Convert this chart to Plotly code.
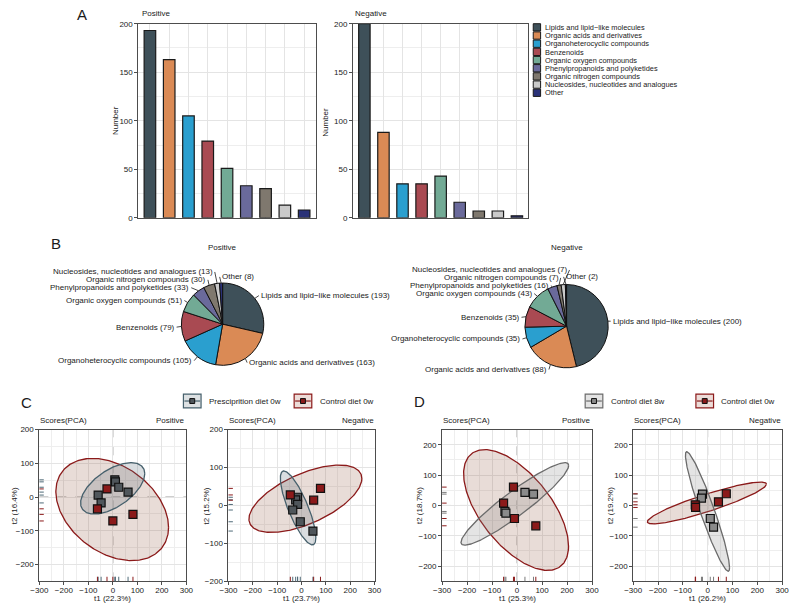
import numpy as np
import plotly.graph_objects as go

W, H = 796, 607
FONT = "Arial, 'Liberation Sans', sans-serif"
TXT = "#1a1a1a"
FRAME = "#4d4d4d"
GRID = "#e4e4e4"
GRID_MINOR = "#eeeeee"

# ---------------- data ----------------
categories = ["Lipids and lipid\u2212like molecules", "Organic acids and derivatives",
              "Organoheterocyclic compounds", "Benzenoids", "Organic oxygen compounds",
              "Phenylpropanoids and polyketides", "Organic nitrogen compounds",
              "Nucleosides, nucleotides and analogues", "Other"]
category_colors = ["#3E5059", "#DA8A55", "#2A9FCF", "#A94A52", "#72AA95",
                   "#6A6A9B", "#7F786E", "#CACACA", "#2A3278"]
positive_counts = [193, 163, 105, 79, 51, 33, 30, 13, 8]
negative_counts = [200, 88, 35, 35, 43, 16, 7, 7, 2]
count_ticks = [0, 50, 100, 150, 200]

# PCA scores (t1, t2) per panel and group
c_pos_presc_t1 = [8, 10.5, 24, 62, -60, -48]
c_pos_presc_t2 = [51, 45, 29, 14.6, 5.8, -17.5]
c_pos_ctrl_t1 = [-24, -63, 0, 82]
c_pos_ctrl_t2 = [24, -35, -71, -51.5]

c_neg_presc_t1 = [-16, -24, -16, -36, -5, 47]
c_neg_presc_t2 = [21.6, 14.7, 2.6, -12, -43, -67.5]
c_neg_ctrl_t1 = [-46, 78, 50]
c_neg_ctrl_t2 = [27.7, 45, 13.9]

d_pos_8w_t1 = [31.5, 65.7, -48.6, -44.7]
d_pos_8w_t2 = [43, 37.4, -19.8, -25.3]
d_pos_ctrl_t1 = [-14.5, -54, -10.5, 75]
d_pos_ctrl_t2 = [60.5, 7.7, -43, -67]

d_neg_8w_t1 = [-21, -25, 10.5, 23.7]
d_neg_8w_t2 = [37.4, 24, -43, -71.5]
d_neg_ctrl_t1 = [75, 43.4, -50, -48.7]
d_neg_ctrl_t2 = [38.5, 12, 2.2, -6.6]

# confidence ellipses: centre t1, centre t2, sd t1, sd t2, correlation
c_pos_presc_ell = [-0.7, 25.7, 131, 76.3, 0.57]
c_pos_ctrl_ell = [-2.7, -37, 230, 151.6, -0.35]
c_neg_presc_ell = [-14, -6.5, 73, 97.5, -0.8]
c_neg_ctrl_ell = [16, 17.7, 232, 88.8, 0.6]
d_pos_8w_ell = [-9, 5, 215.5, 136, 0.93]
d_pos_ctrl_ell = [-4, -15, 210, 199, -0.6]
d_neg_8w_ell = [-0.7, -19.8, 88.8, 197, -0.94]
d_neg_ctrl_ell = [-3, 8.3, 240, 68.8, 0.9]

t1_labels = ["t1 (22.3%)", "t1 (23.7%)", "t1 (25.3%)", "t1 (26.2%)"]
t2_labels = ["t2 (16.4%)", "t2 (15.2%)", "t2 (18.7%)", "t2 (19.2%)"]
score_ticks = [-300, -200, -100, 0, 100, 200, 300]


def fx(px):
    return px / W


def fy(py):
    return 1 - py / H


fig = go.Figure()
shapes = []
annotations = []


def text(px, py, s, size=8, xanchor="center", yanchor="middle", angle=0, color=TXT):
    annotations.append(dict(x=fx(px), y=fy(py), xref="paper", yref="paper", text=s,
                            showarrow=False, xanchor=xanchor, yanchor=yanchor,
                            textangle=angle, borderpad=0,
                            font=dict(size=size, family=FONT, color=color)))


def axname(n):
    return ("xaxis", "yaxis") if n == 1 else (f"xaxis{n}", f"yaxis{n}")


def axref(n):
    return ("x", "y") if n == 1 else (f"x{n}", f"y{n}")


layout_axes = {}
tickfont = dict(size=8, family=FONT, color=TXT)

# ---------------- Panel A: bars ----------------
bar_boxes = [((132, 313), (20, 217)), ((351, 530), (20, 217))]
for n, (counts, ((x0, x1), (y0, y1))) in enumerate(zip([positive_counts, negative_counts], bar_boxes), start=1):
    xa, ya = axname(n)
    xr, yr = axref(n)
    fig.add_trace(go.Bar(x=list(range(len(categories))), y=counts, width=0.6,
                         marker=dict(color=category_colors, line=dict(color="#1a1a1a", width=1.2)),
                         xaxis=xr, yaxis=yr, showlegend=False, hoverinfo="skip"))
    layout_axes[xa] = dict(domain=[fx(x0), fx(x1)], anchor=yr, range=[-0.6, len(categories) - 0.4],
                           tickmode="array", tickvals=list(range(len(categories))),
                           showticklabels=False, ticks="", showgrid=True, gridcolor=GRID, gridwidth=1,
                           showline=True, mirror=True, linecolor=FRAME, linewidth=1, zeroline=False)
    layout_axes[ya] = dict(domain=[fy(y1), fy(y0)], anchor=xr, range=[0, 200],
                           tickmode="array", tickvals=count_ticks, ticks="outside", ticklen=3,
                           tickcolor=FRAME, tickfont=tickfont, showgrid=True, gridcolor=GRID,
                           minor=dict(dtick=25, showgrid=True, gridcolor=GRID_MINOR, ticks=""),
                           showline=True, mirror=True, linecolor=FRAME, linewidth=1, zeroline=False)

text(74, 11, "A", size=15)
text(135, 10, "Positive", xanchor="left")
text(352, 10, "Negative", xanchor="left")
text(108, 118, "Number", angle=-90)
text(323, 120, "Number", angle=-90)

# legend of panel A
for i, (cat, col) in enumerate(zip(categories, category_colors)):
    top = 20 + i * 8.3
    shapes.append(dict(type="rect", xref="paper", yref="paper", x0=fx(535), x1=fx(542.5),
                       y0=fy(top + 7.4), y1=fy(top), fillcolor=col,
                       line=dict(color="#1a1a1a", width=1)))
    text(546, top + 3.9, cat, size=7.4, xanchor="left")

# ---------------- Panel B: pies ----------------
pie_specs = [
    (positive_counts, (218, 325, 42), "Positive",
     [(255, 296, "left"), (243, 364, "left"), (189, 362, "right"), (171, 328, "right"),
      (179, 301, "right"), (186, 288, "right"), (203, 280, "right"), (210, 272, "right"),
      (215, 277, "left")]),
    (negative_counts, (569, 327, 42.5), "Negative",
     [(614, 322, "left"), (551, 371, "right"), (524, 340, "right"), (523, 318, "right"),
      (536, 294, "right"), (553, 286, "right"), (563, 278, "right"), (572, 270, "right"),
      (566, 277, "left")]),
]
for counts, (cx, cy, r), title, label_pos in pie_specs:
    fig.add_trace(go.Pie(values=counts, labels=categories, sort=False, direction="clockwise",
                         rotation=0, textinfo="none", hoverinfo="skip", showlegend=False,
                         marker=dict(colors=category_colors, line=dict(color="#111111", width=1)),
                         domain=dict(x=[fx(cx - r), fx(cx + r)], y=[fy(cy + r), fy(cy - r)])))
    text(cx, 247, title)
    total = float(sum(counts))
    cum = 0.0
    for cat, v, (lx, ly, side) in zip(categories, counts, label_pos):
        mid = np.deg2rad((cum + v / 2.0) / total * 360.0)
        cum += v
        ax_ = cx + r * np.sin(mid)
        ay_ = cy - r * np.cos(mid)
        shapes.append(dict(type="line", xref="paper", yref="paper", x0=fx(ax_), y0=fy(ay_),
                           x1=fx(lx), y1=fy(ly), line=dict(color="#1a1a1a", width=0.8)))
        tx = lx + 1 if side == "left" else lx - 1
        text(tx, ly, f"{cat} ({v})", xanchor=side)

text(48, 243, "B", size=15)

# ---------------- Panels C / D: PCA scores ----------------
C_G1 = dict(marker="#4F565B", line="#46606C", fill="rgba(80,100,112,0.22)", rug="#4F6A78")
D_G1 = dict(marker="#8A8A8A", line="#6B6B6B", fill="rgba(130,130,130,0.22)", rug="#7A7A7A")
G2 = dict(marker="#8B1A1A", line="#8B1A1A", fill="rgba(150,95,75,0.22)", rug="#8B1A1A")

score_panels = [
    (3, (31, 181), [-250, 200], "Positive", C_G1,
     (c_pos_presc_t1, c_pos_presc_t2, c_pos_presc_ell), (c_pos_ctrl_t1, c_pos_ctrl_t2, c_pos_ctrl_ell), 6),
    (4, (224, 373), [-200, 200], "Negative", C_G1,
     (c_neg_presc_t1, c_neg_presc_t2, c_neg_presc_ell), (c_neg_ctrl_t1, c_neg_ctrl_t2, c_neg_ctrl_ell), 201),
    (5, (442, 595), [-250, 250], "Positive", D_G1,
     (d_pos_8w_t1, d_pos_8w_t2, d_pos_8w_ell), (d_pos_ctrl_t1, d_pos_ctrl_t2, d_pos_ctrl_ell), 419),
    (6, (637, 789), [-250, 250], "Negative", D_G1,
     (d_neg_8w_t1, d_neg_8w_t2, d_neg_8w_ell), (d_neg_ctrl_t1, d_neg_ctrl_t2, d_neg_ctrl_ell), 614),
]
SY0, SY1 = 432, 586
tt = np.linspace(0, 2 * np.pi, 240)


def ellipse(params):
    cx, cy, sx, sy, rho = params
    ex = cx + sx * np.cos(tt)
    ey = cy + sy * (rho * np.cos(tt) + np.sqrt(1 - rho ** 2) * np.sin(tt))
    return ex, ey


for idx, (n, (x0, x1), yrange, mode, g1sty, g1, g2, ytx) in enumerate(score_panels):
    xa, ya = axname(n)
    xr, yr = axref(n)
    layout_axes[xa] = dict(domain=[fx(x0), fx(x1)], anchor=yr, range=[-300, 300],
                           tickmode="array", tickvals=score_ticks, ticks="outside", ticklen=3,
                           tickcolor=FRAME, tickfont=tickfont, showgrid=True, gridcolor=GRID,
                           ticklabelstandoff=-2,
                           minor=dict(tickmode="array", tickvals=[-250, -150, -50, 50, 150, 250],
                                      showgrid=True, gridcolor=GRID_MINOR, ticks=""),
                           showline=True, mirror=True, linecolor=FRAME, linewidth=1, zeroline=False)
    yt = [v for v in [-200, -100, 0, 100, 200] if yrange[0] <= v <= yrange[1]]
    ym = [v for v in [-250, -150, -50, 50, 150, 250] if yrange[0] < v < yrange[1]]
    layout_axes[ya] = dict(domain=[fy(SY1), fy(SY0)], anchor=xr, range=yrange,
                           tickmode="array", tickvals=yt, ticks="outside", ticklen=3,
                           tickcolor=FRAME, tickfont=tickfont, showgrid=True, gridcolor=GRID,
                           minor=dict(tickmode="array", tickvals=ym, showgrid=True,
                                      gridcolor=GRID_MINOR, ticks=""),
                           showline=True, mirror=True, linecolor=FRAME, linewidth=1, zeroline=False)
    # dashed zero lines
    shapes.append(dict(type="line", xref=xr, yref=f"{yr} domain", x0=0, x1=0, y0=0, y1=1,
                       layer="below", line=dict(color="#9a9a9a", width=1, dash="dash")))
    shapes.append(dict(type="line", xref=f"{xr} domain", yref=yr, x0=0, x1=1, y0=0, y1=0,
                       layer="below", line=dict(color="#9a9a9a", width=1, dash="dash")))
    # ellipses (control first, then the other group)
    for (gx, gy, gell), sty in [(g2, G2), (g1, g1sty)]:
        ex, ey = ellipse(gell)
        fig.add_trace(go.Scatter(x=ex, y=ey, mode="lines", fill="toself", fillcolor=sty["fill"],
                                 line=dict(color=sty["line"], width=1.3), xaxis=xr, yaxis=yr,
                                 showlegend=False, hoverinfo="skip"))
    for (gx, gy, gell), sty in [(g1, g1sty), (g2, G2)]:
        fig.add_trace(go.Scatter(x=gx, y=gy, mode="markers", xaxis=xr, yaxis=yr,
                                 marker=dict(symbol="square", size=8, color=sty["marker"],
                                             line=dict(color="#111111", width=1.2)),
                                 showlegend=False, hoverinfo="skip"))
        for v in gx:
            shapes.append(dict(type="line", xref=xr, yref=f"{yr} domain", x0=v, x1=v, y0=0, y1=0.03,
                               line=dict(color=sty["rug"], width=1)))
        for v in gy:
            shapes.append(dict(type="line", xref=f"{xr} domain", yref=yr, x0=0, x1=0.03, y0=v, y1=v,
                               line=dict(color=sty["rug"], width=1)))
    text(x0, 423, "Scores(PCA)", xanchor="left")
    text(x1, 423, mode, xanchor="right")
    text((x0 + x1) / 2, 603, t1_labels[idx])
    text(ytx, (SY0 + SY1) / 2, t2_labels[idx], angle=-90)

text(18, 404, "C", size=15)
text(419, 403, "D", size=15)


def legend_key(x0, y0, sty, box_fill):
    x1, y1 = x0 + 18, y0 + 14
    shapes.append(dict(type="rect", xref="paper", yref="paper", x0=fx(x0), x1=fx(x1),
                       y0=fy(y1), y1=fy(y0), fillcolor=box_fill,
                       line=dict(color=sty["line"], width=1.2)))
    ym = (y0 + y1) / 2
    shapes.append(dict(type="line", xref="paper", yref="paper", x0=fx(x0 + 1), x1=fx(x1 - 1),
                       y0=fy(ym), y1=fy(ym), line=dict(color=sty["line"], width=1.2)))
    shapes.append(dict(type="rect", xref="paper", yref="paper", x0=fx(x0 + 6.5), x1=fx(x1 - 6.5),
                       y0=fy(ym + 2.5), y1=fy(ym - 2.5), fillcolor=sty["marker"],
                       line=dict(color="#111111", width=1)))


legend_key(178, 396, C_G1, "#DDE1E3")
text(203, 403, "Presciprition diet 0w", xanchor="left")
legend_key(291, 396, G2, "#ECDCD8")
text(316, 403, "Control diet 0w", xanchor="left")
legend_key(588, 396, D_G1, "#E3E3E3")
text(613, 403, "Control diet 8w", xanchor="left")
legend_key(701, 396, G2, "#ECDCD8")
text(726, 403, "Control diet 0w", xanchor="left")

fig.update_layout(width=W, height=H, margin=dict(l=0, r=0, t=0, b=0), autosize=False,
                  paper_bgcolor="white", plot_bgcolor="white", showlegend=False,
                  font=dict(family=FONT, size=8, color=TXT),
                  shapes=shapes, annotations=annotations, **layout_axes)
fig.write_html("out.html")
